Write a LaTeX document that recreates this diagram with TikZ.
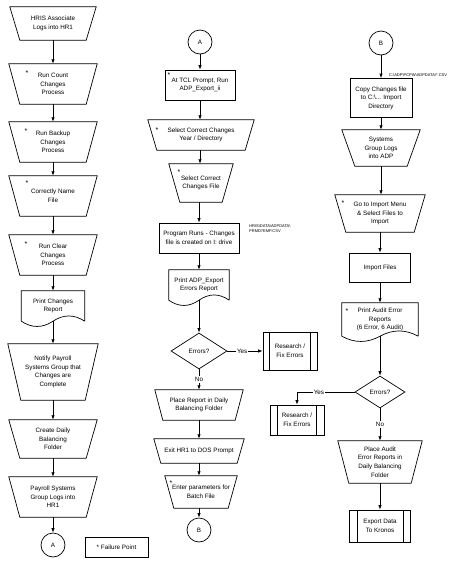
\documentclass[tikz,border=0pt]{standalone}
\usepackage{fontspec}
\setmainfont{Liberation Sans}
\usetikzlibrary{shapes.geometric,arrows.meta,calc}
\newcommand\bxfont{\fontsize{6.3}{8.6}\selectfont}
\newcommand\anfont{\fontsize{4.0}{5.0}\selectfont}
\tikzset{
  shapeline/.style={draw=black, line width=0.7pt},
  box/.style={shape=rectangle, draw=none, inner sep=0pt, align=center, font=\bxfont},
  proc/.style={box, draw=black, line width=0.7pt},
  conn/.style={circle, draw=black, line width=0.7pt, minimum size=24pt, inner sep=0pt, font=\bxfont},
  dec/.style={diamond, draw=black, line width=0.7pt, inner sep=0pt, font=\bxfont},
  flow/.style={draw=black, line width=0.7pt, -{Latex[length=4.5pt,width=3.4pt]}},
  lbl/.style={fill=white, inner sep=1pt, font=\bxfont},
  ann/.style={font=\anfont, align=left, inner sep=0pt},
  starlbl/.style={font=\fontsize{7}{8}\selectfont, inner sep=0pt},
}
\newcommand\mantrap[2]{\draw[shapeline] (#1.north west) -- (#1.north east) -- ($(#1.south east)+(-#2,0)$) -- ($(#1.south west)+(#2,0)$) -- cycle;}
\newcommand\docshape[1]{\draw[shapeline] (#1.south east) -- (#1.north east) -- (#1.north west) -- (#1.south west) .. controls ($(#1.south west)!0.333!(#1.south)+(0,7)$) and ($(#1.south west)!0.667!(#1.south)+(0,7)$) .. (#1.south) .. controls ($(#1.south)!0.333!(#1.south east)+(0,-7)$) and ($(#1.south)!0.667!(#1.south east)+(0,-7)$) .. (#1.south east);}
\newcommand\predef[2]{\draw[shapeline] ($(#1.north west)+(#2,0)$) -- ($(#1.south west)+(#2,0)$) ($(#1.north east)+(-#2,0)$) -- ($(#1.south east)+(-#2,0)$);}
\begin{document}
\begin{tikzpicture}[x=1pt,y=-1pt]
\useasboundingbox[fill=white] (0,0) rectangle (466,568);
% ---------- column 1 ----------
\node[box, minimum width=86pt, minimum height=33pt] (n1) at (53,23.5) {HRIS Associate\\Logs into HR1};
\mantrap{n1}{10}
\node[box, minimum width=88pt, minimum height=40pt] (n2) at (53,84) {Run Count\\Changes\\Process};
\mantrap{n2}{11}
\node[starlbl] (s2) at (27,73) {*};
\node[box, minimum width=88pt, minimum height=40pt] (n3) at (53,142) {Run Backup\\Changes\\Process};
\mantrap{n3}{11}
\node[starlbl] (s3) at (26,131) {*};
\node[box, minimum width=88pt, minimum height=40pt] (n4) at (53,196) {Correctly Name\\File};
\mantrap{n4}{11}
\node[starlbl] (s4) at (27,183) {*};
\node[box, minimum width=88pt, minimum height=40pt] (n5) at (53,255) {Run Clear\\Changes\\Process};
\mantrap{n5}{11}
\node[starlbl] (s5) at (26,244) {*};
\node[box, minimum width=63pt, minimum height=30pt] (n6) at (53,306) {Print Changes\\Report};
\docshape{n6}
\node[box, minimum width=90pt, minimum height=56pt] (n7) at (53,372) {Notify Payroll\\Systems Group that\\Changes are\\Complete};
\mantrap{n7}{13}
\node[box, minimum width=88pt, minimum height=38pt] (n8) at (53,439) {Create Daily\\Balancing\\Folder};
\mantrap{n8}{11}
\node[box, minimum width=88pt, minimum height=40pt] (n9) at (53,497) {Payroll Systems\\Group Logs into\\HR1};
\mantrap{n9}{11}
\node[conn] (a1) at (53,545) {A};
\node[proc, minimum width=63pt, minimum height=20pt] (fp) at (116.5,547) {* Failure Point};
\draw[flow] (n1.south) -- (n2.north);
\draw[flow] (n2.south) -- (n3.north);
\draw[flow] (n3.south) -- (n4.north);
\draw[flow] (n4.south) -- (n5.north);
\draw[flow] (n5.south) -- (n6.north);
\draw[flow] (n6.south) -- (n7.north);
\draw[flow] (n7.south) -- (n8.north);
\draw[flow] (n8.south) -- (n9.north);
\draw[flow] (n9.south) -- (a1.north);
% ---------- column 2 ----------
\node[conn] (a2) at (200,42) {A};
\node[proc, minimum width=70pt, minimum height=30pt] (m1) at (200,85) {At TCL Prompt, Run\\ADP\_Export\_ii};
\node[starlbl] (t1) at (169,75) {*};
\node[box, minimum width=106pt, minimum height=30pt] (m2) at (201,135) {Select Correct Changes\\Year / Directory};
\mantrap{m2}{9}
\node[starlbl] (t2) at (157,130) {*};
\node[box, minimum width=64pt, minimum height=38pt] (m3) at (201,183) {Select Correct\\Changes File};
\mantrap{m3}{11}
\node[starlbl] (t3) at (179,172) {*};
\node[proc, minimum width=80pt, minimum height=30pt] (m4) at (199,238) {Program Runs - Changes\\file is created on I: drive};
\node[ann, anchor=north west] (an1) at (249,224) {HRIS\textbackslash DATA\textbackslash ADPDATA\textbackslash\\PRMD7EMP.CSV};
\node[box, minimum width=60pt, minimum height=30pt] (m5) at (199,285) {Print ADP\_Export\\Errors Report};
\docshape{m5}
\node[dec, minimum width=56pt, minimum height=36pt] (m6) at (199,351) {Errors?};
\node[proc, minimum width=54pt, minimum height=38pt] (r1) at (290,351) {Research /\\Fix Errors};
\predef{r1}{7}
\node[box, minimum width=88pt, minimum height=30pt] (m7) at (199,405) {Place Report in Daily\\Balancing Folder};
\mantrap{m7}{8}
\node[box, minimum width=90pt, minimum height=24pt] (m8) at (199,451) {Exit HR1 to DOS Prompt};
\mantrap{m8}{7}
\node[box, minimum width=72pt, minimum height=32pt] (m9) at (201,492) {Enter parameters for\\Batch File};
\mantrap{m9}{9}
\node[starlbl] (t9) at (171,483) {*};
\node[conn] (b2) at (199,530) {B};
\draw[flow] (a2.south) -- (m1.north);
\draw[flow] (m1.south) -- (m2.north -| m1.south);
\draw[flow] (m2.south -| m1.south) -- (m3.north -| m1.south);
\draw[flow] (m3.south -| m4.north) -- (m4.north);
\draw[flow] (m4.south) -- (m5.north);
\draw[flow] (m5.south) -- (m6.north);
\draw[flow] (m6.east) -- node[lbl, pos=0.42] {Yes} (r1.west);
\draw[flow] (m6.south) -- node[lbl, pos=0.5] {No} (m7.north);
\draw[flow] (m7.south) -- (m8.north);
\draw[flow] (m8.south) -- (m9.north -| m8.south);
\draw[flow] (m9.south -| b2.north) -- (b2.north);
% ---------- column 3 ----------
\node[conn] (b3) at (381,43) {B};
\node[ann, anchor=west] (an2) at (389,75) {C:\textbackslash ADP\textbackslash PCPW\textbackslash ADPDATA\textbackslash *.CSV};
\node[proc, minimum width=62pt, minimum height=39pt] (k1) at (381,98) {Copy Changes file\\to C:\textbackslash... Import\\Directory};
\node[box, minimum width=78pt, minimum height=36pt] (k2) at (381,148) {Systems\\Group Logs\\into ADP};
\mantrap{k2}{13}
\node[box, minimum width=90pt, minimum height=37pt] (k3) at (380,213.5) {Go to Import Menu\\\& Select Files to\\Import};
\mantrap{k3}{11}
\node[starlbl] (u3) at (343,203) {*};
\node[proc, minimum width=61pt, minimum height=29pt] (k4) at (380,267.5) {Import Files};
\node[box, minimum width=76pt, minimum height=33pt] (k5) at (380,319.5) {Print Audit Error\\Reports\\(6 Error, 6 Audit)};
\docshape{k5}
\node[starlbl] (u5) at (347,311) {*};
\node[dec, minimum width=50pt, minimum height=32pt] (k6) at (380,392) {Errors?};
\node[proc, minimum width=54pt, minimum height=30pt] (r2) at (297,420) {Research /\\Fix Errors};
\predef{r2}{8}
\node[box, minimum width=84pt, minimum height=42pt] (k7) at (380,462) {Place Audit\\Error Reports in\\Daily Balancing\\Folder};
\mantrap{k7}{11}
\node[proc, minimum width=61pt, minimum height=32pt] (k8) at (380,526) {Export Data\\To Kronos};
\predef{k8}{8}
\draw[flow] (b3.south) -- (k1.north);
\draw[flow] (k1.south) -- (k2.north);
\draw[flow] (k2.south) -- (k3.north -| k2.south);
\draw[flow] (k3.south) -- (k4.north);
\draw[flow] (k4.south) -- (k5.north);
\draw[flow] (k5.south) -- (k6.north);
\draw[flow] (k6.west) -| node[lbl, pos=0.31] {Yes} (r2.north);
\draw[flow] (k6.south) -- node[lbl, pos=0.5] {No} (k7.north);
\draw[flow] (k7.south) -- (k8.north);
\end{tikzpicture}
\end{document}
